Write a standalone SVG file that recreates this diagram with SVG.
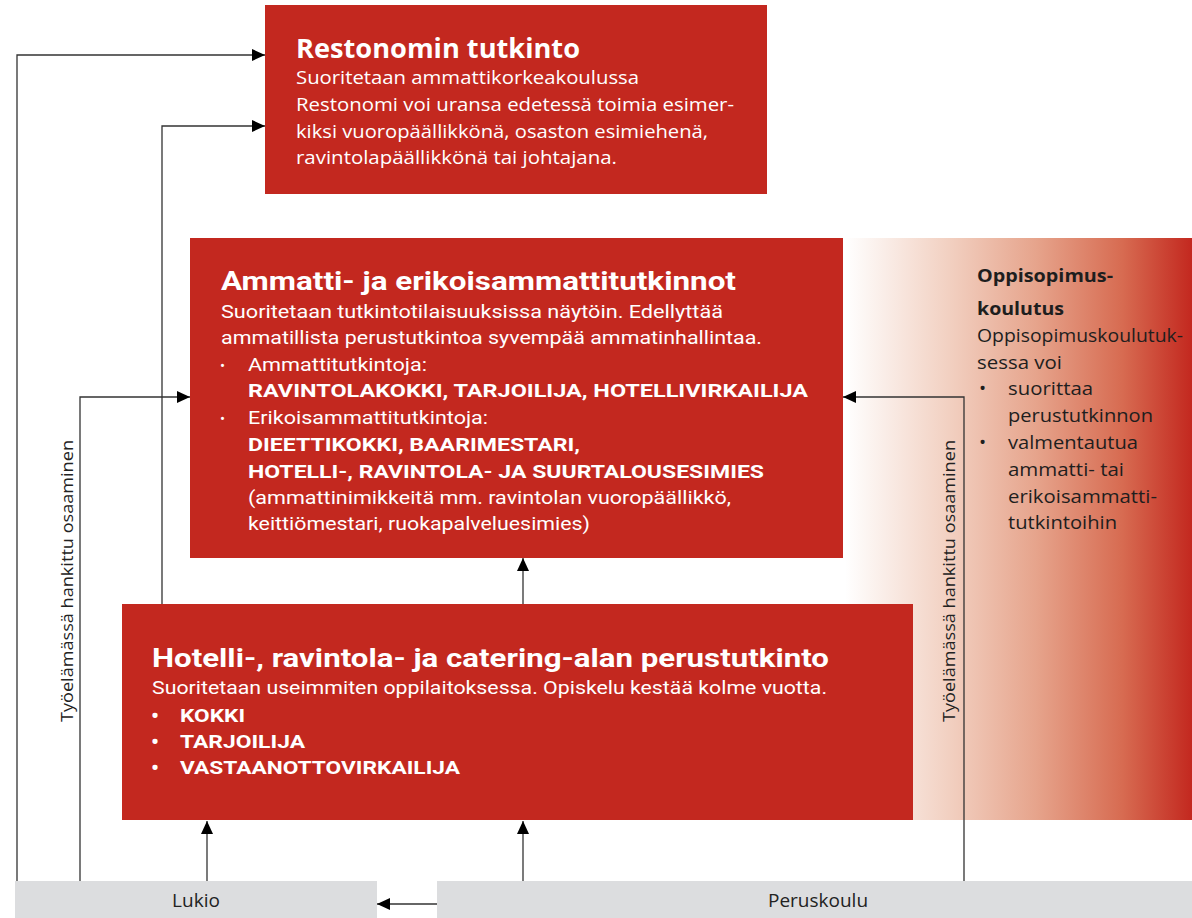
<svg xmlns="http://www.w3.org/2000/svg" width="1192" height="918" viewBox="0 0 1192 918">
<style>
.box{fill:#c3281f}
.bar{fill:#dcdddf}
.w{fill:#ffffff}
.os{font-family:"Open Sans","Liberation Sans",sans-serif}
.rb{font-family:Roboto,"Liberation Sans",sans-serif}
.h{font-size:26px;font-weight:bold}
.b{font-size:19px}
.bb{font-size:19px;font-weight:bold}
.dk{fill:#1e1e1e}
.lbl{font-family:"Open Sans","Liberation Sans",sans-serif;font-size:17px;fill:#222}
.bl{font-family:"Open Sans","Liberation Sans",sans-serif;font-size:19px;fill:#222}
.big{font-size:22px;font-weight:bold}
.con{fill:none;stroke:#333;stroke-width:1.3}
</style>
<defs>
<linearGradient id="grad" gradientUnits="userSpaceOnUse" x1="845" y1="0" x2="1192" y2="0">
<stop offset="0" stop-color="#ffffff"/>
<stop offset="0.3" stop-color="#f2d0c1"/>
<stop offset="0.55" stop-color="#e6a48c"/>
<stop offset="0.8" stop-color="#d76b51"/>
<stop offset="1" stop-color="#c3281f"/>
</linearGradient>
<marker id="arr" markerUnits="userSpaceOnUse" markerWidth="13" markerHeight="12" refX="13" refY="6" orient="auto">
<path d="M0,0 L13,6 L0,12 z" fill="#000"/>
</marker>
</defs>

<g id="oppisopimus">
<rect x="843" y="238" width="349" height="582" fill="url(#grad)"/>
<text class="os dk" font-size="18" font-weight="bold" x="977" y="282" textLength="136" lengthAdjust="spacingAndGlyphs">Oppisopimus-</text>
<text class="os dk" font-size="18" font-weight="bold" x="977" y="315" textLength="87" lengthAdjust="spacingAndGlyphs">koulutus</text>
<g class="os dk" font-size="19">
<text x="977" y="342" textLength="206" lengthAdjust="spacingAndGlyphs">Oppisopimuskoulutuk-</text>
<text x="977" y="369" textLength="85" lengthAdjust="spacingAndGlyphs">sessa voi</text>
<text x="979" y="395">•</text>
<text x="1008" y="395" textLength="85" lengthAdjust="spacingAndGlyphs">suorittaa</text>
<text x="1008" y="422" textLength="145" lengthAdjust="spacingAndGlyphs">perustutkinnon</text>
<text x="979" y="449">•</text>
<text x="1008" y="449" textLength="130" lengthAdjust="spacingAndGlyphs">valmentautua</text>
<text x="1008" y="476" textLength="116" lengthAdjust="spacingAndGlyphs">ammatti- tai</text>
<text x="1008" y="503" textLength="149" lengthAdjust="spacingAndGlyphs">erikoisammatti-</text>
<text x="1008" y="529" textLength="109" lengthAdjust="spacingAndGlyphs">tutkintoihin</text>
</g>
</g>

<g id="restonomi">
<rect class="box" x="265" y="5" width="502" height="189"/>
<text class="os w h" x="296" y="58" textLength="284" lengthAdjust="spacingAndGlyphs">Restonomin tutkinto</text>
<g class="os w b">
<text x="296" y="84" textLength="343" lengthAdjust="spacingAndGlyphs">Suoritetaan ammattikorkeakoulussa</text>
<text x="296" y="111" textLength="438" lengthAdjust="spacingAndGlyphs">Restonomi voi uransa edetessä toimia esimer-</text>
<text x="296" y="138" textLength="412" lengthAdjust="spacingAndGlyphs">kiksi vuoropäällikkönä, osaston esimiehenä,</text>
<text x="296" y="164" textLength="321" lengthAdjust="spacingAndGlyphs">ravintolapäällikkönä tai johtajana.</text>
</g>
</g>

<g id="ammatti">
<rect class="box" x="190" y="238" width="653" height="320"/>
<text class="rb w h" x="221" y="290" textLength="515" lengthAdjust="spacingAndGlyphs">Ammatti- ja erikoisammattitutkinnot</text>
<g class="rb w b">
<text x="221" y="318" textLength="502" lengthAdjust="spacingAndGlyphs">Suoritetaan tutkintotilaisuuksissa näytöin. Edellyttää</text>
<text x="221" y="344" textLength="541" lengthAdjust="spacingAndGlyphs">ammatillista perustutkintoa syvempää ammatinhallintaa.</text>
<text x="220" y="371" font-size="15">•</text>
<text x="248" y="371" textLength="179" lengthAdjust="spacingAndGlyphs">Ammattitutkintoja:</text>
<text x="220" y="424" font-size="15">•</text>
<text x="248" y="424" textLength="240" lengthAdjust="spacingAndGlyphs">Erikoisammattitutkintoja:</text>
<text x="248" y="504" textLength="483" lengthAdjust="spacingAndGlyphs">(ammattinimikkeitä mm. ravintolan vuoropäällikkö,</text>
<text x="248" y="530" textLength="342" lengthAdjust="spacingAndGlyphs">keittiömestari, ruokapalveluesimies)</text>
</g>
<g class="rb w bb">
<text x="248" y="397" textLength="560" lengthAdjust="spacingAndGlyphs">RAVINTOLAKOKKI, TARJOILIJA, HOTELLIVIRKAILIJA</text>
<text x="248" y="451" textLength="332" lengthAdjust="spacingAndGlyphs">DIEETTIKOKKI, BAARIMESTARI,</text>
<text x="248" y="478" textLength="516" lengthAdjust="spacingAndGlyphs">HOTELLI-, RAVINTOLA- JA SUURTALOUSESIMIES</text>
</g>
</g>

<g id="perustutkinto">
<rect class="box" x="122" y="604" width="791" height="216"/>
<text class="rb w h" x="152" y="667" textLength="677" lengthAdjust="spacingAndGlyphs">Hotelli-, ravintola- ja catering-alan perustutkinto</text>
<text class="rb w b" x="152" y="694" textLength="675" lengthAdjust="spacingAndGlyphs">Suoritetaan useimmiten oppilaitoksessa. Opiskelu kestää kolme vuotta.</text>
<g class="rb w">
<text class="big" x="151" y="723">•</text>
<text class="big" x="151" y="749">•</text>
<text class="big" x="151" y="775">•</text>
</g>
<g class="rb w bb">
<text x="180" y="722" textLength="65" lengthAdjust="spacingAndGlyphs">KOKKI</text>
<text x="180" y="748" textLength="125" lengthAdjust="spacingAndGlyphs">TARJOILIJA</text>
<text x="180" y="774" textLength="280" lengthAdjust="spacingAndGlyphs">VASTAANOTTOVIRKAILIJA</text>
</g>
</g>

<g id="lukio">
<rect class="bar" x="15" y="881" width="362" height="37"/>
<text class="bl" x="196" y="907" text-anchor="middle">Lukio</text>
</g>

<g id="peruskoulu">
<rect class="bar" x="437" y="881" width="755" height="37"/>
<text class="bl" x="818" y="907" text-anchor="middle">Peruskoulu</text>
</g>

<g id="connectors">
<path class="con" d="M17,881 V55 H265" marker-end="url(#arr)"/>
<path class="con" d="M162,604 V126 H265" marker-end="url(#arr)"/>
<path class="con" d="M80,881 V397 H190" marker-end="url(#arr)"/>
<path class="con" d="M964,881 V397 H843" marker-end="url(#arr)"/>
<path class="con" d="M523,604 V558" marker-end="url(#arr)"/>
<path class="con" d="M207,881 V821" marker-end="url(#arr)"/>
<path class="con" d="M523,881 V821" marker-end="url(#arr)"/>
<path class="con" d="M437,904 H377" marker-end="url(#arr)"/>
<text class="lbl" transform="translate(73,722) rotate(-90)" textLength="282" lengthAdjust="spacingAndGlyphs">Työelämässä hankittu osaaminen</text>
<text class="lbl" transform="translate(955,722) rotate(-90)" textLength="282" lengthAdjust="spacingAndGlyphs">Työelämässä hankittu osaaminen</text>
</g>
</svg>
